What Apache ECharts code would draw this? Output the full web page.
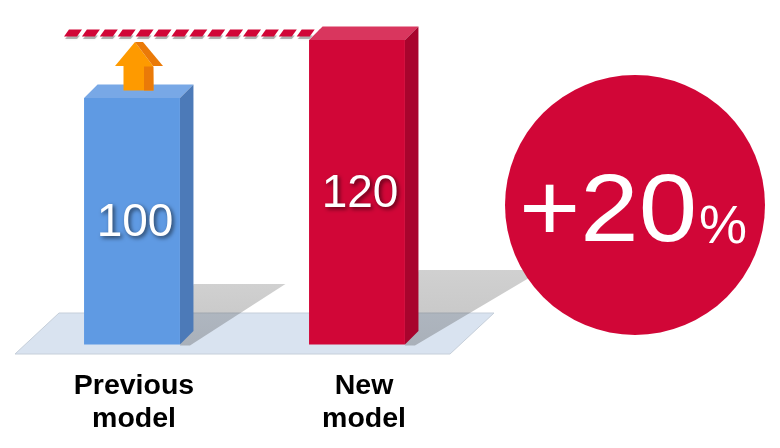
<!DOCTYPE html>
<html><head><meta charset="utf-8">
<style>html,body{margin:0;padding:0;background:#fff}#c{width:780px;height:448px}</style>
<script src="https://cdn.jsdelivr.net/npm/echarts@6/dist/echarts.min.js"></script>
</head><body><div id="c"></div>
<script>
const categories = ['Previous\nmodel', 'New\nmodel'];
const values = [100, 120];
const gainNumber = '+20';
const gainUnit = '%';

const FONT = '"Liberation Sans", Arial, sans-serif';
const AXIS_MIN = 15, AXIS_MAX = 125;
const faces = [
  {front: '#5f9ae3', top: '#78a8e6', side: '#4c7ab8'},
  {front: '#d10637', top: '#d9365e', side: '#a8042d'}
];
const shadowReach = [{dx: 92, top: 284}, {dx: 124, top: 270}];
const barShift = [-2, -7];
const DEPTH = 13.5;

function poly(points, fill, extra) {
  return {type: 'polygon', shape: {points}, style: Object.assign({fill}, extra || {})};
}
function renderBar(params, api) {
  const i = params.dataIndex;
  const top = api.coord([api.value(0), api.value(1)]);
  const base = api.coord([api.value(0), AXIS_MIN]);
  const w = api.size([1, 0])[0] * 0.417;
  const cx = top[0] + barShift[i];
  const x0 = cx - w / 2, x1 = cx + w / 2, yT = top[1], yB = base[1];
  const f = faces[i], r = shadowReach[i];
  const shadowFill = new echarts.graphic.LinearGradient(0, 1, 0, 0, [
    {offset: 0, color: 'rgba(60,60,60,0.30)'},
    {offset: 1, color: 'rgba(60,60,60,0.24)'}
  ]);
  const children = [];
  if (i === 1) {
    // slanted dashed reference line running from the new model's top toward the previous bar
    const yLine = yT - 7;
    for (let x = 64; x < x0 + 10; x += 17.9) {
      children.push(poly([[x + 1, yLine + 6], [x + 13, yLine + 6], [x + 16, yLine + 2.5], [x + 4, yLine + 2.5]],
        'rgba(90,90,90,0.4)', {shadowBlur: 2, shadowColor: 'rgba(90,90,90,0.4)'}));
    }
    for (let x = 64; x < x0 + 10; x += 17.9) {
      children.push(poly([[x, yLine + 3.5], [x + 13, yLine + 3.5], [x + 18, yLine - 3.5], [x + 5, yLine - 3.5]], '#d10637'));
    }
  }
  children.push(
    poly([[x1 + DEPTH, r.top], [x1 + r.dx + DEPTH, r.top], [x1 + 10, yB + 1], [x1, yB + 1]], shadowFill),
    poly([[x0, yT], [x1, yT], [x1 + DEPTH, yT - DEPTH], [x0 + DEPTH, yT - DEPTH]], f.top),
    poly([[x1, yT], [x1 + DEPTH, yT - DEPTH], [x1 + DEPTH, yB - DEPTH], [x1, yB]], f.side),
    {type: 'rect', shape: {x: x0, y: yT, width: w, height: yB - yT}, style: {fill: f.front}},
    {type: 'text', style: {
      text: String(api.value(1)), x: cx + 3, y: (yT + yB) / 2 + 2,
      fill: '#fff', font: '46px ' + FONT, textAlign: 'center', textVerticalAlign: 'middle',
      textShadowColor: 'rgba(0,0,0,0.6)', textShadowBlur: 4, textShadowOffsetX: 2, textShadowOffsetY: 2
    }}
  );
  return {type: 'group', children};
}

const chart = echarts.init(document.getElementById('c'), null, {renderer: 'canvas'});
chart.setOption({
  animation: false,
  backgroundColor: '#fff',
  grid: {left: 19, width: 460, top: 25.5, height: 319},
  xAxis: {
    type: 'category', data: categories,
    axisLine: {show: false}, axisTick: {show: false},
    axisLabel: {
      margin: 25, color: '#000', fontFamily: FONT, fontWeight: 'bold',
      fontSize: 28.5, lineHeight: 33, interval: 0
    }
  },
  yAxis: {type: 'value', min: AXIS_MIN, max: AXIS_MAX, show: false},
  graphic: [
    {type: 'polygon', z: 0, shape: {points: [[15, 354], [450, 354], [494, 313], [59, 313]]},
     style: {fill: '#d9e3f0', stroke: '#c6cfda', lineWidth: 1}},
    {type: 'group', z: 10, children: [
      {type: 'polygon', z: 10, shape: {points: [[115, 66], [135, 42], [153, 66], [153.5, 90.5], [123.5, 90.5], [123.5, 66]]}, style: {fill: '#fe9a00'}},
      {type: 'polygon', z: 11, shape: {points: [[135, 42], [143, 42], [163, 66], [153, 66]]}, style: {fill: '#ea7a08'}},
      {type: 'polygon', z: 11, shape: {points: [[144, 66.5], [153.5, 66.5], [153.5, 90.5], [144, 90.5]]}, style: {fill: '#ea7a08'}}
    ]},
    {type: 'circle', z: 10, shape: {cx: 635, cy: 205, r: 130}, style: {fill: '#d10637'}},
    {type: 'text', z: 11, x: 519, y: 262, scaleY: 0.91, style: {text: gainNumber, fill: '#fff', font: '105px ' + FONT, textAlign: 'left', textVerticalAlign: 'bottom'}},
    {type: 'text', z: 11, x: 699, y: 255, style: {text: gainUnit, fill: '#fff', font: '54px ' + FONT, textAlign: 'left', textVerticalAlign: 'bottom'}}
  ],
  series: [{
    type: 'custom',
    coordinateSystem: 'cartesian2d',
    clip: false,
    data: values.map((v, i) => [i, v]),
    encode: {x: 0, y: 1},
    renderItem: renderBar
  }]
});
</script></body></html>
